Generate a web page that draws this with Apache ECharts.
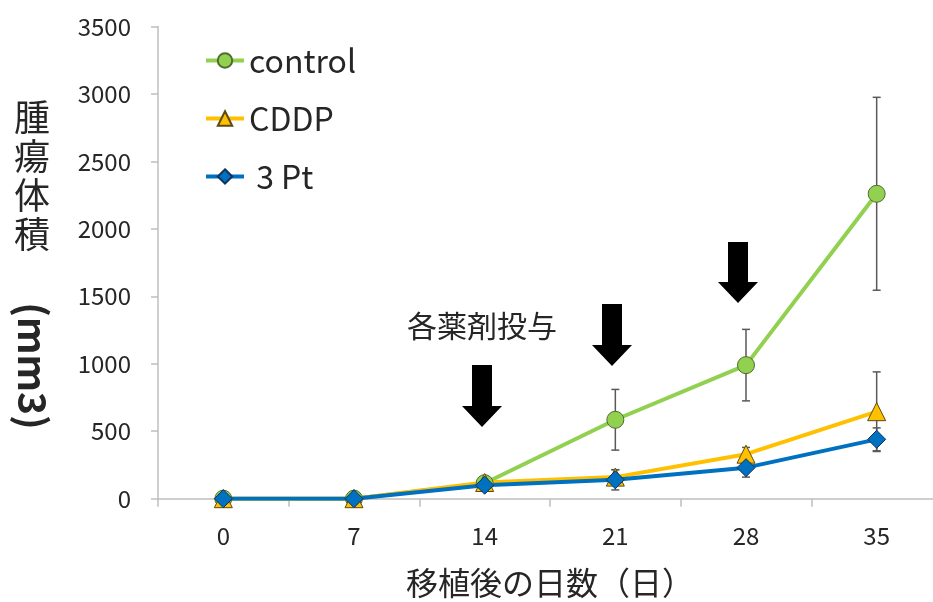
<!DOCTYPE html>
<html>
<head>
<meta charset="utf-8">
<script src="https://cdn.jsdelivr.net/npm/echarts@6/dist/echarts.min.js"></script>
<style>
  html, body { margin: 0; padding: 0; background: #ffffff; }
  #chart { width: 933px; height: 602px; }
</style>
</head>
<body>
<div id="chart"></div>
<script>
// Days after transplantation
const days = ['0', '7', '14', '21', '28', '35'];

// Mean tumour volume (mm3) and its error (±)
const controlMean = [0, 0, 115, 585, 990, 2260];
const controlErr  = [0, 0, 0, 225, 265, 715];
const cddpMean    = [0, 0, 120, 160, 330, 645];
const cddpErr     = [0, 0, 0, 55, 50, 295];
const ptMean      = [0, 0, 100, 140, 230, 440];
const ptErr       = [0, 0, 0, 75, 70, 85];

const yTicks = [0, 500, 1000, 1500, 2000, 2500, 3000, 3500];

const FONT = '"Noto Sans CJK JP", "Noto Sans", sans-serif';
const TEXT = '#262626';
const AXIS = '#bfbfbf';

const chart = echarts.init(document.getElementById('chart'), null, { renderer: 'canvas' });

function errorSeries(name, mean, err) {
  const data = mean.map((m, i) => [i, m - err[i], m + err[i]]);
  return {
    type: 'custom',
    name: name + ' error',
    z: 1,
    silent: true,
    data: data,
    renderItem: function (params, api) {
      const lo = api.coord([api.value(0), api.value(1)]);
      const hi = api.coord([api.value(0), api.value(2)]);
      if (Math.abs(hi[1] - lo[1]) < 1) return null;
      const cap = 4;
      const style = { stroke: '#595959', lineWidth: 1.5 };
      return {
        type: 'group',
        children: [
          { type: 'line', shape: { x1: lo[0], y1: lo[1], x2: hi[0], y2: hi[1] }, style: style },
          { type: 'line', shape: { x1: lo[0] - cap, y1: lo[1], x2: lo[0] + cap, y2: lo[1] }, style: style },
          { type: 'line', shape: { x1: hi[0] - cap, y1: hi[1], x2: hi[0] + cap, y2: hi[1] }, style: style }
        ]
      };
    }
  };
}

function lineSeries(name, values, color, border, symbol, size) {
  return {
    type: 'line',
    name: name,
    data: values,
    z: 3,
    symbol: symbol,
    symbolSize: size,
    showAllSymbol: true,
    lineStyle: { color: color, width: 4 },
    itemStyle: { color: color, borderColor: border, borderWidth: 1 },
    emphasis: { disabled: true }
  };
}

const arrowShape = (cx, top, tip) => {
  const shaftW = 10, headW = 20, headH = 21;
  const headTop = tip - headH;
  return [
    [cx - shaftW, top], [cx + shaftW, top], [cx + shaftW, headTop],
    [cx + headW, headTop], [cx, tip], [cx - headW, headTop], [cx - shaftW, headTop]
  ];
};

chart.setOption({
  animation: false,
  backgroundColor: '#ffffff',
  grid: { left: 158, right: -9, top: 26.5, bottom: 103.3, containLabel: false, outerBoundsMode: 'none' },
  legend: {
    orient: 'vertical',
    left: 199,
    top: 39,
    itemWidth: 38,
    itemHeight: 18,
    itemGap: 25,
    data: ['control', 'CDDP', '3 Pt'],
    lineStyle: { width: 4 },
    formatter: function (n) { return n === '3 Pt' ? ' 3 Pt' : n; },
    textStyle: { fontFamily: FONT, fontSize: 32, color: TEXT, lineHeight: 33 }
  },
  xAxis: {
    type: 'category',
    data: days,
    name: '移植後の日数（日）',
    nameLocation: 'middle',
    nameGap: 68,
    nameTextStyle: { fontFamily: FONT, fontSize: 32, color: TEXT },
    axisLine: { lineStyle: { color: AXIS, width: 1.5 } },
    axisTick: { show: true, length: 8, lineStyle: { color: AXIS, width: 1.5 } },
    axisLabel: { fontFamily: FONT, fontSize: 24, color: TEXT, margin: 25 },
    splitLine: { show: false }
  },
  yAxis: {
    type: 'value',
    min: yTicks[0],
    max: yTicks[yTicks.length - 1],
    interval: 500,
    axisLine: { show: true, lineStyle: { color: AXIS, width: 1.5 } },
    axisTick: { show: true, length: 7, lineStyle: { color: AXIS, width: 1.5 } },
    axisLabel: { fontFamily: FONT, fontSize: 24, color: TEXT, margin: 27, formatter: v => String(v) },
    splitLine: { show: false }
  },
  graphic: [
    {
      type: 'text', left: 14, top: 98,
      style: { text: '腫\n瘍\n体\n積', font: '36px ' + FONT, fill: TEXT, lineHeight: 39, align: 'center' }
    },
    {
      type: 'text', x: 33, y: 366, rotation: -Math.PI / 2,
      style: { text: '(mm3)', font: 'bold 39px ' + FONT, fill: TEXT, align: 'center', verticalAlign: 'middle' }
    },
    {
      type: 'text', x: 482, y: 326,
      style: { text: '各薬剤投与', font: '30px ' + FONT, fill: TEXT, align: 'center', verticalAlign: 'middle' }
    },
    { type: 'polygon', shape: { points: arrowShape(482, 365, 427) }, style: { fill: '#000000' } },
    { type: 'polygon', shape: { points: arrowShape(612, 304, 366) }, style: { fill: '#000000' } },
    { type: 'polygon', shape: { points: arrowShape(738, 242, 303) }, style: { fill: '#000000' } }
  ],
  series: [
    errorSeries('control', controlMean, controlErr),
    errorSeries('CDDP', cddpMean, cddpErr),
    errorSeries('3 Pt', ptMean, ptErr),
    lineSeries('control', controlMean, '#92D050', '#4f6b2e', 'circle', 17),
    lineSeries('CDDP', cddpMean, '#FFC000', '#5c4a10', 'triangle', 18),
    lineSeries('3 Pt', ptMean, '#0070C0', '#12325a', 'diamond', 18)
  ]
});
</script>
</body>
</html>
